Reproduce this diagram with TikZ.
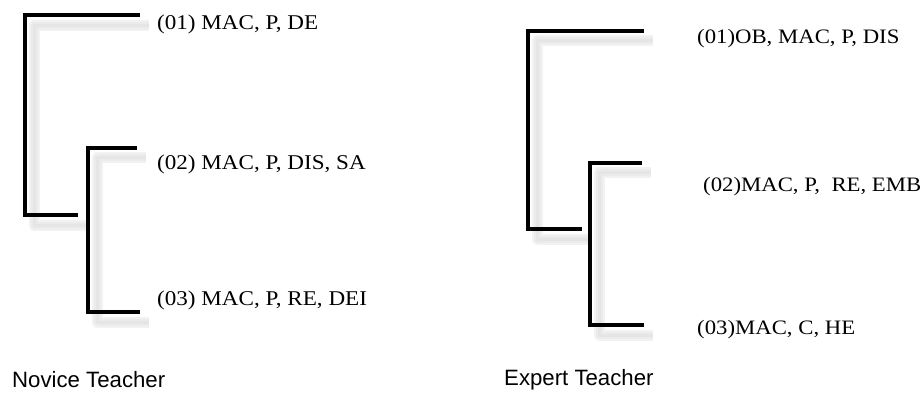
\documentclass[tikz,border=0pt]{standalone}
\usepackage{fontspec}
\setmainfont{Liberation Serif}
\setsansfont{Liberation Sans}
\usepackage{graphicx}
\tikzset{
  branch/.style={line width=4pt, line join=miter},
  shadeA/.style={line width=11pt, black!5, line join=round, transform canvas={shift={(9,10)}}},
  shadeB/.style={line width=7pt, black!8, line join=round, transform canvas={shift={(9,10)}}},
  shadeC/.style={line width=3pt, black!10, line join=round, transform canvas={shift={(9,10)}}},
  leaf/.style={anchor=west, inner sep=0pt, font=\fontsize{21}{24}\selectfont},
  leafr/.style={anchor=west, inner sep=0pt, font=\fontsize{20.5}{24}\selectfont},
  caption/.style={anchor=west, inner sep=0pt, font=\sffamily\fontsize{22.2}{25}\selectfont}
}

\begin{document}
\begin{tikzpicture}[x=1pt, y=-1pt]
  \useasboundingbox (0,0) rectangle (924,393);

  % Define corners (novice)
  \coordinate (nA) at (140,15.5);
  \coordinate (nB) at (25,15.5);
  \coordinate (nC) at (25,215);
  \coordinate (nD) at (78,215);
  \coordinate (nE) at (137,148);
  \coordinate (nF) at (88,148);
  \coordinate (nG) at (88,312);
  \coordinate (nH) at (140,312);

  % Define corners (expert)
  \coordinate (eA) at (644,31);
  \coordinate (eB) at (528,31);
  \coordinate (eC) at (528,229);
  \coordinate (eD) at (582,229);
  \coordinate (eE) at (642,163);
  \coordinate (eF) at (590,163);
  \coordinate (eG) at (590,325);
  \coordinate (eH) at (644,325);

  % Define nodes
  \node[leaf] (n1) at (157,24) {\scalebox{1.1}[1]{(01) MAC, P, DE}};
  \node[leaf] (n2) at (157,164) {\scalebox{1.1}[1]{(02) MAC, P, DIS, SA}};
  \node[leaf] (n3) at (157,300) {\scalebox{1.1}[1]{(03) MAC, P, RE, DEI}};
  \node[leafr] (e1) at (697,39) {\scalebox{1.11}[1]{(01)OB, MAC, P, DIS}};
  \node[leafr] (e2) at (703,187) {\scalebox{1.11}[1]{(02)MAC, P,\ \ RE, EMB}};
  \node[leafr] (e3) at (697,330) {\scalebox{1.11}[1]{(03)MAC, C, HE}};
  \node[caption] (novice) at (12,380) {Novice Teacher};
  \node[caption] (expert) at (504,380) {Expert Teacher};

  % Shadows
  \foreach \s in {shadeA,shadeB,shadeC} {
    \draw[\s] (nA) -- (nB) -- (nC) -- (nD);
    \draw[\s] (nE) -- (nF) -- (nG) -- (nH);
    \draw[\s] (eA) -- (eB) -- (eC) -- (eD);
    \draw[\s] (eE) -- (eF) -- (eG) -- (eH);
  }

  % Connect the branches
  \draw[branch] (nA) -- (nB) -- (nC) -- (nD);
  \draw[branch] (nE) -- (nF) -- (nG) -- (nH);
  \draw[branch] (eA) -- (eB) -- (eC) -- (eD);
  \draw[branch] (eE) -- (eF) -- (eG) -- (eH);

\end{tikzpicture}
\end{document}
